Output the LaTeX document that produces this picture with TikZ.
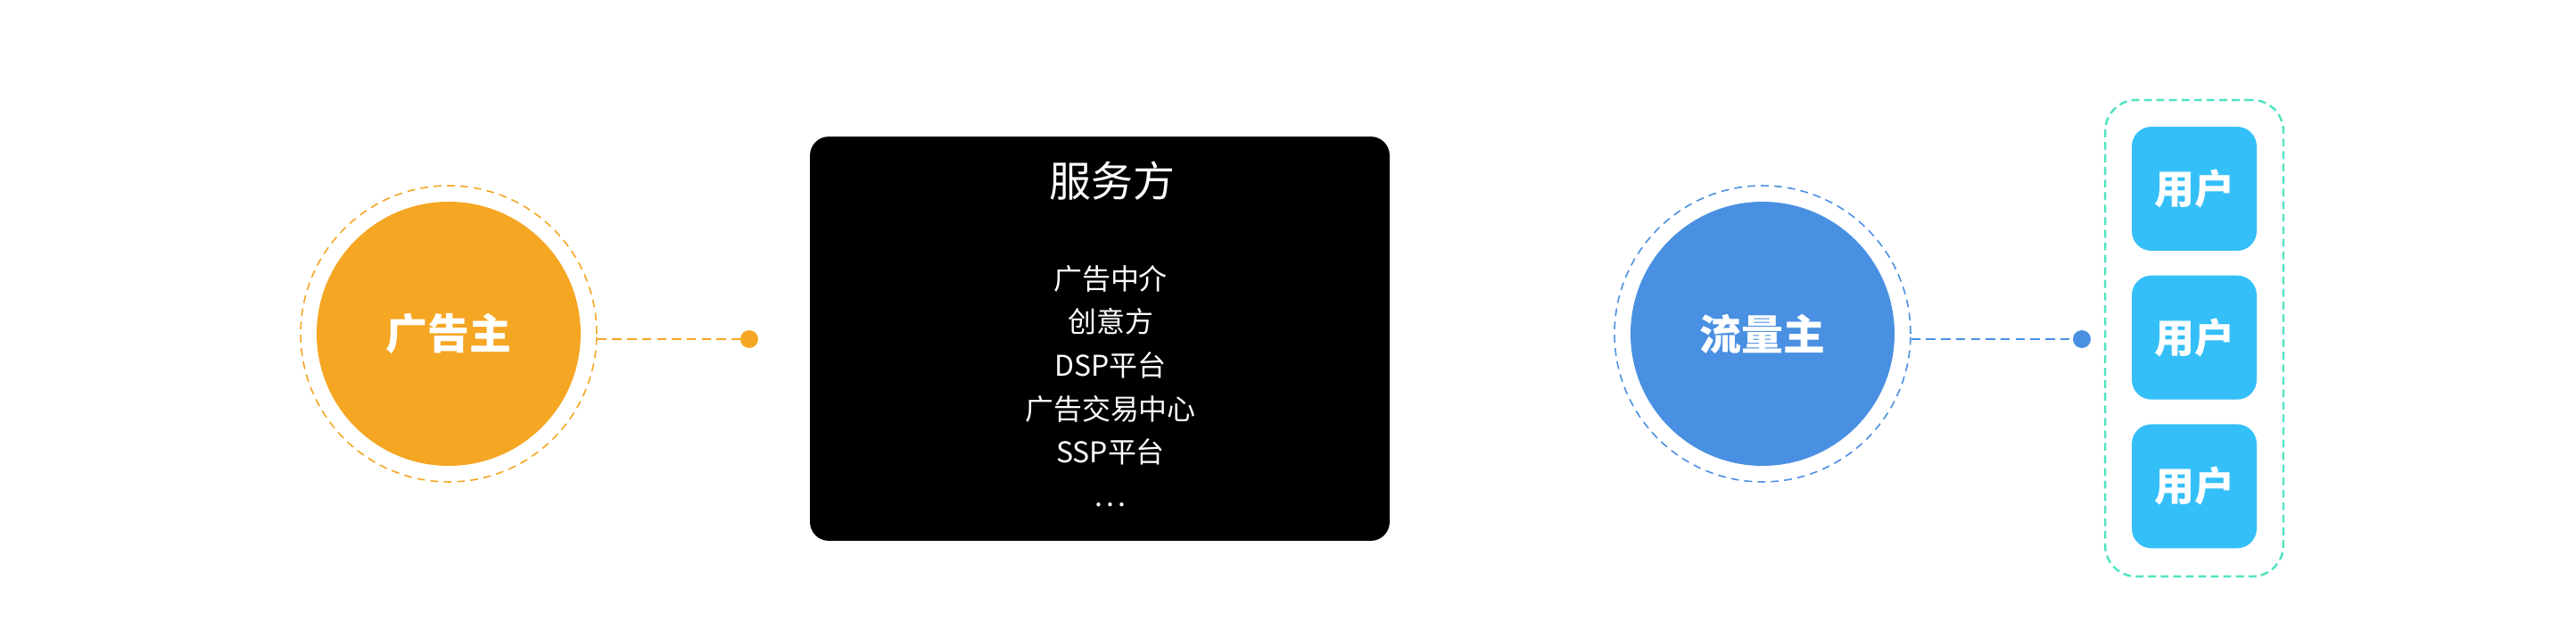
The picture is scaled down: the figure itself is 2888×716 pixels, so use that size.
\documentclass[tikz,border=0pt]{standalone}
\usepackage{fontspec}
\setmainfont{Noto Sans CJK SC}
\usetikzlibrary{positioning}
\definecolor{adorange}{HTML}{F5A623}
\definecolor{flowblue}{HTML}{4A90E2}
\definecolor{usercyan}{HTML}{34BFF8}
\definecolor{groupgreen}{HTML}{50E3C2}
\begin{document}
\begin{tikzpicture}[x=0.02cm,y=-0.02cm,
	disc/.style={circle,minimum size=5.92cm,inner sep=0pt,text=white,font=\fontsize{26.7}{30}\selectfont\bfseries},
	ring/.style={circle,draw,line width=0.9pt,dash pattern=on 5pt off 3.5pt,minimum size=6.64cm,inner sep=0pt},
	enddot/.style={circle,minimum size=0.4cm,inner sep=0pt},
	link/.style={line width=1.2pt,dash pattern=on 6pt off 3.5pt},
	userbox/.style={fill=usercyan,rounded corners=12.5pt,minimum width=2.8cm,minimum height=2.78cm,inner sep=0pt,text=white,font=\fontsize{25.6}{28}\selectfont\bfseries},
	item/.style={anchor=base,text=white,font=\fontsize{18.2}{20}\selectfont}]
	\useasboundingbox (0,0) rectangle (2888,716);
	
	\node[ring,draw=adorange] (advring) at (503,374) {};
	\node[disc,fill=adorange] (adv) at (503,374) {广告主};
	\node[enddot,fill=adorange] (advdot) at (840,380) {};
	\draw[link,adorange] (advring.east |- advdot) -- (advdot);
	
	\node[fill=black,rounded corners=12pt,minimum width=13cm,minimum height=9.06cm] (svc) at (1233,379.5) {};
	\node[anchor=base,text=white,font=\fontsize{26.7}{30}\selectfont] (svctitle) at (1247,220.5) {服务方};
	\foreach \t [count=\i from 0] in {广告中介,创意方,DSP平台,广告交易中心,SSP平台,{.\kern0.13em.\kern0.13em.}}
		\node[item] (svc\i) at (1245,324.5+48.5*\i) {\t};
	
	\node[ring,draw=flowblue] (flowring) at (1976,374) {};
	\node[disc,fill=flowblue] (flow) at (1976,374) {流量主};
	\node[enddot,fill=flowblue] (flowdot) at (2334,380) {};
	\draw[link,flowblue] (flowring.east |- flowdot) -- (flowdot);
	
	\node[draw=groupgreen,line width=1.4pt,dash pattern=on 5pt off 3pt,rounded corners=20pt,minimum width=4cm,minimum height=10.68cm] (users) at (2460,379) {};
	\node[userbox] (user1) at (2460,211.5) {用户};
	\node[userbox,below=0.54cm of user1] (user2) {用户};
	\node[userbox,below=0.54cm of user2] (user3) {用户};
\end{tikzpicture}
\end{document}
